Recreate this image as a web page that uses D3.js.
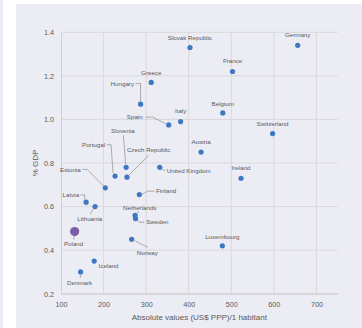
<!DOCTYPE html>
<html><head><meta charset="utf-8">
<script src="https://cdn.jsdelivr.net/npm/d3@7"></script>
<style>
html,body{margin:0;padding:0;background:#fff;}
svg{display:block;}
text{font-family:"Liberation Sans",Arial,sans-serif;fill:#595959;}
</style></head>
<body>
<script>
const countries = ["Slovak Republic","Germany","France","Greece","Hungary","Belgium","Italy","Spain","Switzerland","Austria","Slovenia","Czech Republic","Portugal","United Kingdom","Ireland","Estonia","Finland","Latvia","Lithuania","Netherlands","Sweden","Poland","Norway","Luxembourg","Iceland","Denmark"];
const absValues = [403,656,503,312,287,480,381,353,597,429,253,255,227,332,523,204,284,159,180,274,275,132,266,479,178,146];
const pctGDP = [1.33,1.34,1.22,1.17,1.07,1.03,0.99,0.975,0.935,0.85,0.78,0.735,0.74,0.78,0.73,0.686,0.655,0.62,0.60,0.56,0.545,0.485,0.45,0.42,0.35,0.30];
const xTicks = [100,200,300,400,500,600,700];
const yTicks = [0.2,0.4,0.6,0.8,1.0,1.2,1.4];
const highlight = "Poland";

// label layout: [dx, dy, anchor, leader points (relative to point)]
const labelLayout = {
  "Slovak Republic":[0,-10,"middle",null],
  "Germany":[0,-10.3,"middle",null],
  "France":[0,-10.3,"middle",null],
  "Greece":[0,-10,"middle",null],
  "Hungary":[-6.6,-20.6,"end",[[-5,-20.6],[0,-20.6],[0,-2.6]]],
  "Belgium":[0,-9.5,"middle",null],
  "Italy":[0,-10.3,"middle",null],
  "Spain":[-26,-7.7,"end",[[-23,-7.7],[-16,-7.7],[-3,-1.2]]],
  "Switzerland":[0,-9.7,"middle",null],
  "Austria":[0,-10,"middle",null],
  "Slovenia":[-3.3,-36.3,"middle",[[-2.7,-32],[-0.5,-3]]],
  "Czech Republic":[21.6,-27.6,"middle",[[21.6,-22],[2,-2]]],
  "Portugal":[-10,-31.3,"end",[[-8.5,-31.3],[-4,-31.3],[-2,-3]]],
  "United Kingdom":[7,3.6,"start",[[2,1.8],[5.5,3.4]]],
  "Ireland":[0,-10.3,"middle",null],
  "Estonia":[-24.6,-18.4,"end",[[-23,-18.4],[-18,-18.4],[-2,-2]]],
  "Finland":[16.7,-3.4,"start",[[2.5,0],[8,-3.4],[15,-3.4]]],
  "Latvia":[-7,-7.3,"end",[[-5.5,-7.3],[-1.5,-7.3],[-1.5,-2.6]]],
  "Lithuania":[-5.3,12.3,"middle",[[-5,7.5],[-1.5,2.2]]],
  "Netherlands":[4.7,-7.7,"middle",[[4,-4.2],[1.8,-1.6]]],
  "Sweden":[10.7,3.7,"start",[[1.5,1.5],[4,3.7],[9,3.7]]],
  "Poland":[-1,12.6,"middle",[[-0.7,4.6],[-0.7,8]]],
  "Norway":[15.7,13.7,"middle",[[3,1.5],[16,8]]],
  "Luxembourg":[0,-9,"middle",null],
  "Iceland":[4.4,5.3,"start",null],
  "Denmark":[-1,10.7,"middle",[[0,3],[-0.3,5.8]]]
};

const W=362,H=328;
const svg=d3.select("body").append("svg").attr("width",W).attr("height",H);
const bg="#ECECF5";
svg.append("rect").attr("x",0).attr("y",0).attr("width",3).attr("height",H).attr("fill",bg);
svg.append("rect").attr("x",16).attr("y",4).attr("width",W-16).attr("height",H-4).attr("fill",bg);

const x=d3.scaleLinear().domain([100,750]).range([61,337.7]);
const y=d3.scaleLinear().domain([0.2,1.4]).range([293.7,32.3]);
const grid="#D9D9D9";

// gridlines
svg.append("g").selectAll("line.h").data(yTicks).join("line")
  .attr("x1",x(100)).attr("x2",x(750)).attr("y1",d=>y(d)).attr("y2",d=>y(d))
  .attr("stroke",grid).attr("stroke-width",1);
svg.append("g").selectAll("line.v").data(xTicks.slice(1)).join("line")
  .attr("x1",d=>x(d)).attr("x2",d=>x(d)).attr("y1",y(0.2)).attr("y2",y(1.4))
  .attr("stroke",grid).attr("stroke-width",1);

// axes
const ax=svg.append("g").attr("transform",`translate(0,${y(0.2)})`)
  .call(d3.axisBottom(x).tickValues(xTicks).tickSize(0).tickPadding(8).tickFormat(d3.format("d")));
ax.select(".domain").attr("stroke","#D0D0D0");
ax.selectAll("text").style("font-size","7.2px").attr("fill","#595959");
const ay=svg.append("g").attr("transform",`translate(${x(100)},0)`)
  .call(d3.axisLeft(y).tickValues(yTicks).tickSize(0).tickPadding(7).tickFormat(d3.format(".1f")));
ay.select(".domain").attr("stroke","#D0D0D0");
ay.selectAll("text").style("font-size","7.2px").attr("fill","#595959");

// titles
svg.append("text").attr("x",199.3).attr("y",320).attr("text-anchor","middle")
  .style("font-size","8px").text("Absolute values (US$ PPP)/1 habitant");
svg.append("text").attr("transform","translate(37.5,163) rotate(-90)").attr("text-anchor","middle")
  .style("font-size","8px").text("% GDP");

const data=countries.map((c,i)=>({c,vx:absValues[i],vy:pctGDP[i]}));

// leaders
const line=d3.line();
data.forEach(d=>{
  const L=labelLayout[d.c];
  if(L && L[3]){
    const px=x(d.vx),py=y(d.vy);
    svg.append("path").attr("d",line(L[3].map(p=>[px+p[0],py+p[1]])))
      .attr("fill","none").attr("stroke","#8C8C8C").attr("stroke-width",0.7);
  }
});

// points
svg.append("g").selectAll("circle").data(data).join("circle")
  .attr("cx",d=>x(d.vx)).attr("cy",d=>y(d.vy))
  .attr("r",d=>d.c===highlight?4.6:2.6)
  .attr("fill",d=>d.c===highlight?"#7B5EA7":"#3F77C4");

// labels
svg.append("g").selectAll("text").data(data).join("text")
  .attr("x",d=>x(d.vx)+labelLayout[d.c][0])
  .attr("y",d=>y(d.vy)+labelLayout[d.c][1])
  .attr("dy","0.35em")
  .attr("text-anchor",d=>labelLayout[d.c][2])
  .style("font-size","6.2px")
  .text(d=>d.c);
</script>
</body></html>
